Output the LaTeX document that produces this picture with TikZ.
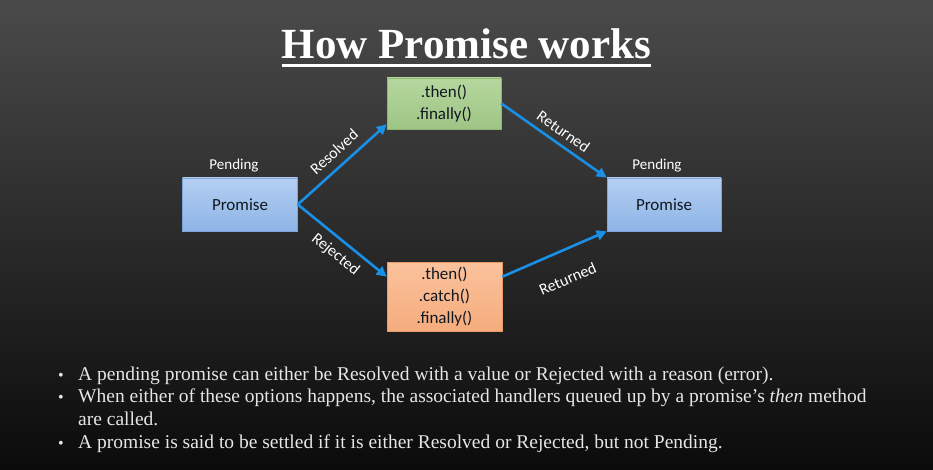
\documentclass[tikz,border=0pt]{standalone}
\usepackage{fontspec}
\setmainfont{Liberation Serif}
\newfontfamily\boxfont{Carlito}
\usetikzlibrary{arrows.meta,calc}

\definecolor{bgtop}{HTML}{4A4A4A}
\definecolor{bgbot}{HTML}{0B0B0B}
\definecolor{flow}{HTML}{1A8FE6}
\definecolor{blueA}{HTML}{B4CFF2}
\definecolor{blueB}{HTML}{8DB4E6}
\definecolor{blueE}{HTML}{7EA6DA}
\definecolor{greenA}{HTML}{B6D79E}
\definecolor{greenB}{HTML}{9EC585}
\definecolor{greenE}{HTML}{8DB574}
\definecolor{orangeA}{HTML}{FBC29C}
\definecolor{orangeB}{HTML}{F5AC7D}
\definecolor{orangeE}{HTML}{E89A68}
\definecolor{boxtext}{HTML}{121820}
\definecolor{notetext}{HTML}{E6E6E6}

\tikzset{
  statebox/.style={draw=blueE, line width=0.6pt, top color=blueA, bottom color=blueB,
    minimum width=115pt, minimum height=53pt, inner sep=0pt,
    font=\boxfont\fontsize{17}{22}\selectfont, text=boxtext, align=center},
  thenbox/.style={draw=greenE, line width=0.6pt, top color=greenA, bottom color=greenB,
    minimum width=114pt, minimum height=51pt, inner sep=0pt,
    font=\boxfont\fontsize{17}{22}\selectfont, text=boxtext, align=center},
  catchbox/.style={draw=orangeE, line width=0.6pt, top color=orangeA, bottom color=orangeB,
    minimum width=115pt, minimum height=69pt, inner sep=0pt,
    font=\boxfont\fontsize{17}{22}\selectfont, text=boxtext, align=center},
  statelabel/.style={font=\boxfont\fontsize{15}{18}\selectfont, text=white},
  flowarrow/.style={draw=flow, line width=2.6pt, -{Triangle[length=10pt,width=10pt]}},
  edgelabel/.style={font=\boxfont\fontsize{16}{18}\selectfont, text=white, sloped, inner sep=0pt}
}

\begin{document}
\begin{tikzpicture}[x=1pt,y=-1pt]
  % background
  \shade[top color=bgtop, bottom color=bgbot] (0,0) rectangle (933,470);
  \useasboundingbox (0,0) rectangle (933,470);

  % heading
  \node[font=\bfseries\fontsize{43}{47}\selectfont, text=white, inner sep=0pt] (title) at (466.5,44) {How Promise works};
  \draw[white, line width=3pt] (title.south west |- 0,66) coordinate (ulA) -- (title.south east |- 0,66) coordinate (ulB);

  % states and handlers
  \node[statebox] (start) at (240,204.5) {Promise};
  \node[statelabel] (startlbl) at (234,166) {Pending};
  \node[thenbox] (resolved) at (444,103.5) {.then()\\.finally()};
  \node[catchbox] (rejected) at (444.5,296.5) {.then()\\.catch()\\.finally()};
  \node[statebox, minimum width=114pt] (next) at (664,204.5) {Promise};
  \node[statelabel] (nextlbl) at (657,166) {Pending};

  % transitions
  \draw[flowarrow] (start.east) -- node[edgelabel, pos=0.52, above=8pt] {Resolved} ([yshift=5pt]resolved.south west);
  \draw[flowarrow] (start.east) -- node[edgelabel, pos=0.53, below=7pt] {Rejected} ([yshift=-15pt]rejected.north west);
  \draw[flowarrow] (resolved.east) -- node[edgelabel, pos=0.52, above=6pt] {Returned} (next.north west);
  \draw[flowarrow] ([yshift=-15pt]rejected.north east) -- node[edgelabel, pos=0.52, below=21pt] {Returned} (next.south west);

  % notes
  \renewcommand\arraystretch{1.03}
  \node[anchor=north west, inner sep=0pt, text=notetext, font=\fontsize{19.5}{22}\selectfont] (notes) at (58,364) {%
    \begin{tabular}{@{}p{20pt}@{}l@{}}
      {\fontsize{16}{22}\selectfont\textbullet} & A pending promise can either be Resolved with a value or Rejected with a reason (error).\\
      {\fontsize{16}{22}\selectfont\textbullet} & When either of these options happens, the associated handlers queued up by a promise's \emph{then} method\\
       & are called.\\
      {\fontsize{16}{22}\selectfont\textbullet} & A promise is said to be settled if it is either Resolved or Rejected, but not Pending.
    \end{tabular}};
\end{tikzpicture}
\end{document}
